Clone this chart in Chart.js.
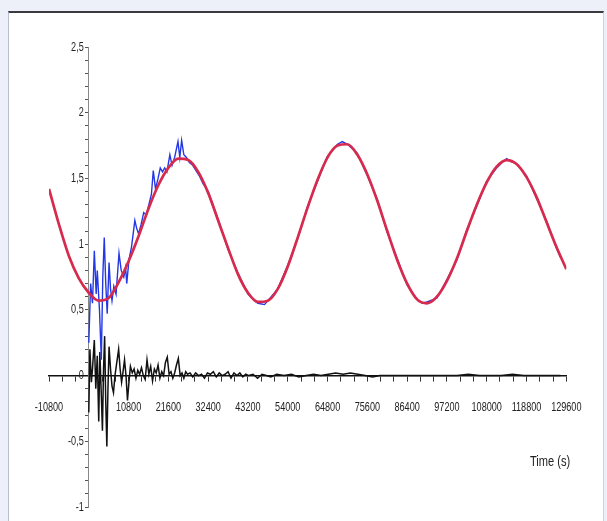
<!DOCTYPE html>
<html>
<head>
<meta charset="utf-8">
<script src="https://cdn.jsdelivr.net/npm/chart.js@4.4.1/dist/chart.umd.min.js"></script>
<style>
  html, body { margin: 0; padding: 0; }
  body { width: 607px; height: 521px; background: #edf0f9; position: relative; overflow: hidden; }
  #frame { position: absolute; left: 8px; top: 11px; width: 596px; height: 510px; background: #fff;
           border-top: 2px solid #3a3a40; border-left: 1px solid #b9bdcc; border-right: 1px solid #cfd3df; box-sizing: border-box; }
  #chart { position: absolute; left: 0; top: 0; }
  #xtitle { position: absolute; left: 530px; top: 452px; color: #222; transform: scaleX(0.74); transform-origin: left top;
            font: 15px 'Liberation Sans', sans-serif; white-space: nowrap; }
</style>
</head>
<body>
<div id="frame"></div>
<canvas id="chart" width="607" height="521"></canvas>
<div id="xtitle">Time (s)</div>
<script>
// fitted curve (red)
const fitTimes = [-10800, -8100, -5400, -2700, 0, 2700, 5400, 8100, 10800, 13500, 16200, 18900, 21600, 24300,
  27000, 29700, 32400, 35100, 37800, 40500, 43200, 45900, 48600, 51300, 54000, 56700, 59400, 62100, 64800,
  67500, 70200, 72900, 75600, 78300, 81000, 83700, 86400, 89100, 91800, 94500, 97200, 99900, 102600, 105300,
  108000, 110700, 113400, 116100, 118800, 121500, 124200, 126900, 129600];
const fitValues = [1.42, 1.15, 0.91, 0.74, 0.63, 0.57, 0.59, 0.71, 0.87, 1.06, 1.27, 1.45, 1.58, 1.65,
  1.64, 1.55, 1.39, 1.18, 0.97, 0.77, 0.63, 0.56, 0.57, 0.66, 0.83, 1.05, 1.28, 1.49, 1.66,
  1.75, 1.76, 1.68, 1.53, 1.33, 1.10, 0.88, 0.70, 0.58, 0.55, 0.60, 0.72, 0.89, 1.10, 1.30,
  1.47, 1.59, 1.64, 1.61, 1.51, 1.36, 1.17, 0.98, 0.81];

// measured signal (blue)
const measTimes = [0, 500, 1000, 1500, 2000, 2300, 2900, 3400, 3800, 4200,
  4600, 5000, 5500, 5900, 6300, 6800, 7400, 8200, 8800, 9500,
  10000, 10300, 10900, 11600, 12500, 13000, 13500, 14200, 14900, 15600,
  16300, 17000, 17500, 18100, 18800, 19400, 20000, 20600, 21200, 22000,
  22600, 23300, 24200, 24700, 25200, 25800, 26500, 27300, 28200, 29100,
  30000, 31000, 32400, 35100, 37800, 40500, 43200, 45000, 45900, 47700,
  48600, 51300, 54000, 56700, 59400, 62100, 64800, 67500, 68800, 70200,
  72900, 75600, 78300, 81000, 83700, 86400, 89100, 90500, 91800, 94500,
  97200, 99900, 102600, 105300, 108000, 110700, 112500, 113400, 114500, 116100,
  118800, 121500, 124200, 126900, 128000];
const measValues = [0.25, 0.70, 0.55, 0.95, 0.62, 0.80, 0.50, 0.12, 0.75, 1.05,
  0.70, 0.47, 0.86, 0.66, 0.57, 0.68, 0.62, 0.93, 0.80, 0.75,
  0.82, 0.70, 0.88, 0.98, 1.18, 1.12, 1.08, 1.15, 1.24, 1.22,
  1.30, 1.38, 1.56, 1.42, 1.50, 1.58, 1.55, 1.58, 1.55, 1.68,
  1.60, 1.66, 1.78, 1.66, 1.79, 1.68, 1.66, 1.62, 1.60, 1.56,
  1.52, 1.46, 1.40, 1.19, 0.96, 0.78, 0.62, 0.57, 0.55, 0.54,
  0.57, 0.66, 0.84, 1.04, 1.29, 1.48, 1.67, 1.76, 1.78, 1.76,
  1.69, 1.52, 1.34, 1.09, 0.89, 0.69, 0.58, 0.55, 0.56, 0.59,
  0.73, 0.88, 1.11, 1.29, 1.48, 1.58, 1.63, 1.65, 1.63, 1.61,
  1.52, 1.35, 1.18, 0.97, 0.90];

// residual (black)
const residTimes = [0, 300, 700, 1000, 1500, 1900, 2300, 2700, 3000, 3400,
  3700, 4000, 4300, 4600, 4900, 5200, 5500, 5900, 6300, 6700,
  7100, 7600, 8100, 8500, 8900, 9300, 9700, 10100, 10500, 10900,
  11300, 11800, 12300, 12800, 13300, 13800, 14300, 14800, 15300, 15800,
  16300, 16800, 17300, 17800, 18300, 18800, 19300, 19800, 20300, 20800,
  21300, 21800, 22300, 22800, 23300, 23800, 24300, 24800, 25300, 25800,
  26300, 26800, 27500, 28200, 29000, 29800, 30600, 31400, 32200, 33000,
  33800, 34600, 35400, 36200, 37000, 37800, 38600, 39400, 40200, 41000,
  41800, 42600, 43400, 44600, 45800, 47000, 48200, 49400, 51000, 53000,
  55000, 57000, 59000, 61000, 63000, 65000, 67000, 69000, 71000, 73000,
  75000, 77000, 79000, 82000, 85000, 88000, 91000, 94000, 97000, 100000,
  103000, 106000, 109000, 112000, 115000, 118000, 121000, 124000, 127000, 128000];
const residValues = [-0.28, 0.20, -0.05, 0.05, 0.27, -0.10, 0.15, -0.35, 0.18, -0.15,
  -0.42, 0.05, 0.30, -0.20, -0.54, -0.10, 0.22, 0.05, -0.08, -0.13,
  0.00, 0.10, 0.20, 0.05, -0.05, 0.03, 0.12, 0.00, -0.19, -0.05,
  0.07, 0.02, 0.05, -0.02, 0.04, 0.01, 0.06, 0.00, -0.03, 0.12,
  0.01, 0.07, -0.04, 0.05, 0.02, 0.08, -0.02, 0.03, 0.00, 0.10,
  0.14, 0.01, 0.03, -0.02, 0.02, 0.08, 0.13, 0.00, 0.02, -0.02,
  0.03, 0.01, 0.02, -0.01, 0.02, 0.00, 0.01, -0.02, 0.02, 0.01,
  0.03, -0.01, 0.02, 0.00, 0.01, 0.03, -0.02, 0.02, 0.00, 0.02,
  -0.01, 0.01, 0.00, 0.01, -0.02, 0.01, 0.00, -0.01, 0.01, 0.00,
  0.01, -0.01, 0.00, 0.01, 0.00, 0.01, 0.02, 0.01, 0.02, 0.01,
  0.00, -0.01, 0.00, 0.00, 0.00, 0.00, 0.00, 0.00, 0.00, 0.00,
  0.01, 0.00, 0.00, 0.00, 0.01, 0.00, 0.00, 0.00, 0.00, 0.00];

// axes
const xMin = -10800, xMax = 129600, xMinorStep = 3600, xLabelStep = 10800;
const yMin = -1, yMax = 2.5, yMinorStep = 0.1, yLabelStep = 0.5;

const tickFont = { family: "'Liberation Sans', sans-serif", size: 13 };
const toPoints = (xs, ys) => xs.map((x, i) => ({ x: x, y: ys[i] }));
// axes cross at zero, so they should not take any room in the layout
const noRoom = (scale) => { if (scale.isHorizontal()) scale.height = 0; else scale.width = 0; };

// no narrow font is installed: squeeze the tick labels with fillText's maxWidth
const narrowLabels = {
  id: 'narrowLabels',
  beforeDraw(chart) {
    const ctx = chart.ctx;
    if (ctx.plainFillText) return;
    ctx.plainFillText = ctx.fillText;
    ctx.fillText = function (text, x, y) {
      return this.plainFillText(text, x, y, this.measureText(text).width * 0.7);
    };
  }
};

new Chart(document.getElementById('chart'), {
  type: 'line',
  data: {
    datasets: [
      { label: 'Fit', data: toPoints(fitTimes, fitValues), borderColor: '#d72b4e', borderWidth: 2.7,
        pointRadius: 0, cubicInterpolationMode: 'monotone' },
      { label: 'Measured', data: toPoints(measTimes, measValues), borderColor: '#2437e6', borderWidth: 1.4,
        pointRadius: 0, tension: 0 },
      { label: 'Residual', data: toPoints(residTimes, residValues), borderColor: '#111', borderWidth: 1.5,
        pointRadius: 0, tension: 0 }
    ]
  },
  options: {
    responsive: false,
    animation: false,
    events: [],
    layout: { padding: { left: 49, right: 32, top: 47, bottom: 14 } },
    plugins: { legend: { display: false }, tooltip: { enabled: false } },
    scales: {
      x: {
        type: 'linear', position: { y: 0 }, min: xMin, max: xMax, afterFit: noRoom,
        grid: { drawOnChartArea: false, tickLength: 5, tickColor: '#333', tickWidth: 1 },
        border: { color: '#111', width: 1.6 },
        ticks: {
          stepSize: xMinorStep, autoSkip: false, maxRotation: 0, padding: 19, color: '#222',
          font: tickFont,
          callback: v => (v !== 0 && v % xLabelStep === 0) ? String(v) : ''
        }
      },
      y: {
        type: 'linear', position: { x: 0 }, min: yMin, max: yMax, afterFit: noRoom,
        grid: { drawOnChartArea: false, tickLength: 3, tickColor: '#555', tickWidth: 1 },
        border: { color: '#888', width: 1 },
        ticks: {
          stepSize: yMinorStep, autoSkip: false, padding: 4, color: '#222',
          font: tickFont,
          // trailing spaces keep the label clear of the axis line
          callback: v => {
            const k = v / yLabelStep;
            if (Math.abs(k - Math.round(k)) > 1e-6) return '';
            return String(Math.round(k) * yLabelStep).replace('.', ',') + '  ';
          }
        }
      }
    }
  },
  plugins: [narrowLabels]
});
</script>
</body>
</html>
